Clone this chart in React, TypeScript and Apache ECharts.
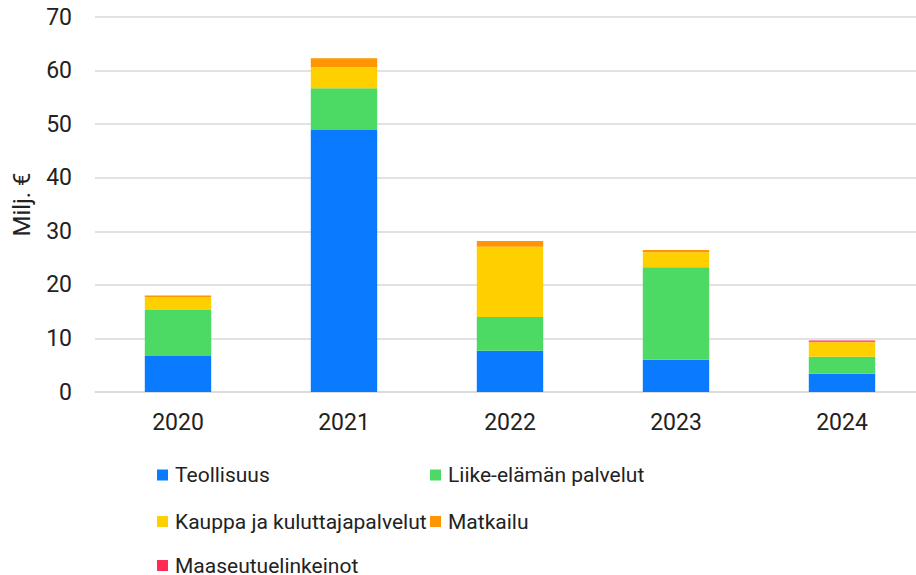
import React, { useEffect, useRef } from "react";
import * as echarts from "echarts";

const years = ["2020", "2021", "2022", "2023", "2024"];
const seriesNames = [
  "Teollisuus",
  "Liike-elämän palvelut",
  "Kauppa ja kuluttajapalvelut",
  "Matkailu",
  "Maaseutuelinkeinot",
];
const teollisuus = [6.7, 48.9, 7.7, 6.0, 3.4];
const liike = [8.6, 7.8, 6.3, 17.3, 3.2];
const kauppa = [2.4, 3.9, 13.1, 2.8, 2.7];
const matkailu = [0.3, 1.7, 1.1, 0.4, 0.1];
const maaseutu = [0, 0, 0, 0, 0.2];
const colors = ["#0A7BFF", "#4CD964", "#FFD000", "#FF9500", "#FF2D55"];
const yTicks = { min: 0, max: 70, interval: 10 };

const FONT = "Roboto, 'Noto Sans', sans-serif";

export default function App() {
  const ref = useRef<HTMLDivElement>(null);
  useEffect(() => {
    if (!ref.current) return;
    const chart = echarts.init(ref.current, undefined, { renderer: "svg" });
    const values = [teollisuus, liike, kauppa, matkailu, maaseutu];
    const legendPos = [
      { left: 157, top: 463.5 },
      { left: 430, top: 463.5 },
      { left: 157, top: 510 },
      { left: 430, top: 510 },
      { left: 157, top: 554 },
    ];
    chart.setOption({
      animation: false,
      textStyle: { fontFamily: FONT },
      grid: {
        left: 95,
        top: 17,
        width: 830,
        height: 375,
        containLabel: false,
        outerBoundsMode: "none",
      },
      legend: seriesNames.map((n, i) => ({
        data: [n],
        left: legendPos[i].left,
        top: legendPos[i].top,
        padding: 0,
        icon: "rect",
        itemWidth: 11,
        itemHeight: 11,
        textStyle: {
          fontSize: 21,
          color: "#222",
          fontFamily: FONT,
          lineHeight: 23,
          padding: [0, 0, 0, 2],
        },
      })),
      xAxis: {
        type: "category",
        data: years,
        axisLine: { lineStyle: { color: "#d9d9d9", width: 1.5 } },
        axisTick: { show: false },
        axisLabel: { fontSize: 23, color: "#222", margin: 19, fontFamily: FONT },
      },
      yAxis: {
        type: "value",
        min: yTicks.min,
        max: yTicks.max,
        interval: yTicks.interval,
        name: "Milj. €",
        nameLocation: "middle",
        nameGap: 61,
        nameRotate: 90,
        nameTextStyle: { fontSize: 24, color: "#222", fontFamily: FONT },
        axisLabel: { fontSize: 23, color: "#222", margin: 23, fontFamily: FONT },
        splitLine: { lineStyle: { color: "#d9d9d9", width: 1.5 } },
        axisLine: { show: false },
        axisTick: { show: false },
      },
      series: seriesNames.map((n, i) => ({
        name: n,
        type: "bar",
        stack: "total",
        data: values[i],
        barWidth: "40%",
        itemStyle: { color: colors[i] },
      })),
    });
    return () => chart.dispose();
  }, []);
  return (
    <div
      style={{
        position: "absolute",
        left: 0,
        top: 0,
        width: 916,
        height: 575,
        overflow: "hidden",
        background: "#fff",
      }}
    >
      <div ref={ref} style={{ width: 926, height: 575 }} />
    </div>
  );
}
